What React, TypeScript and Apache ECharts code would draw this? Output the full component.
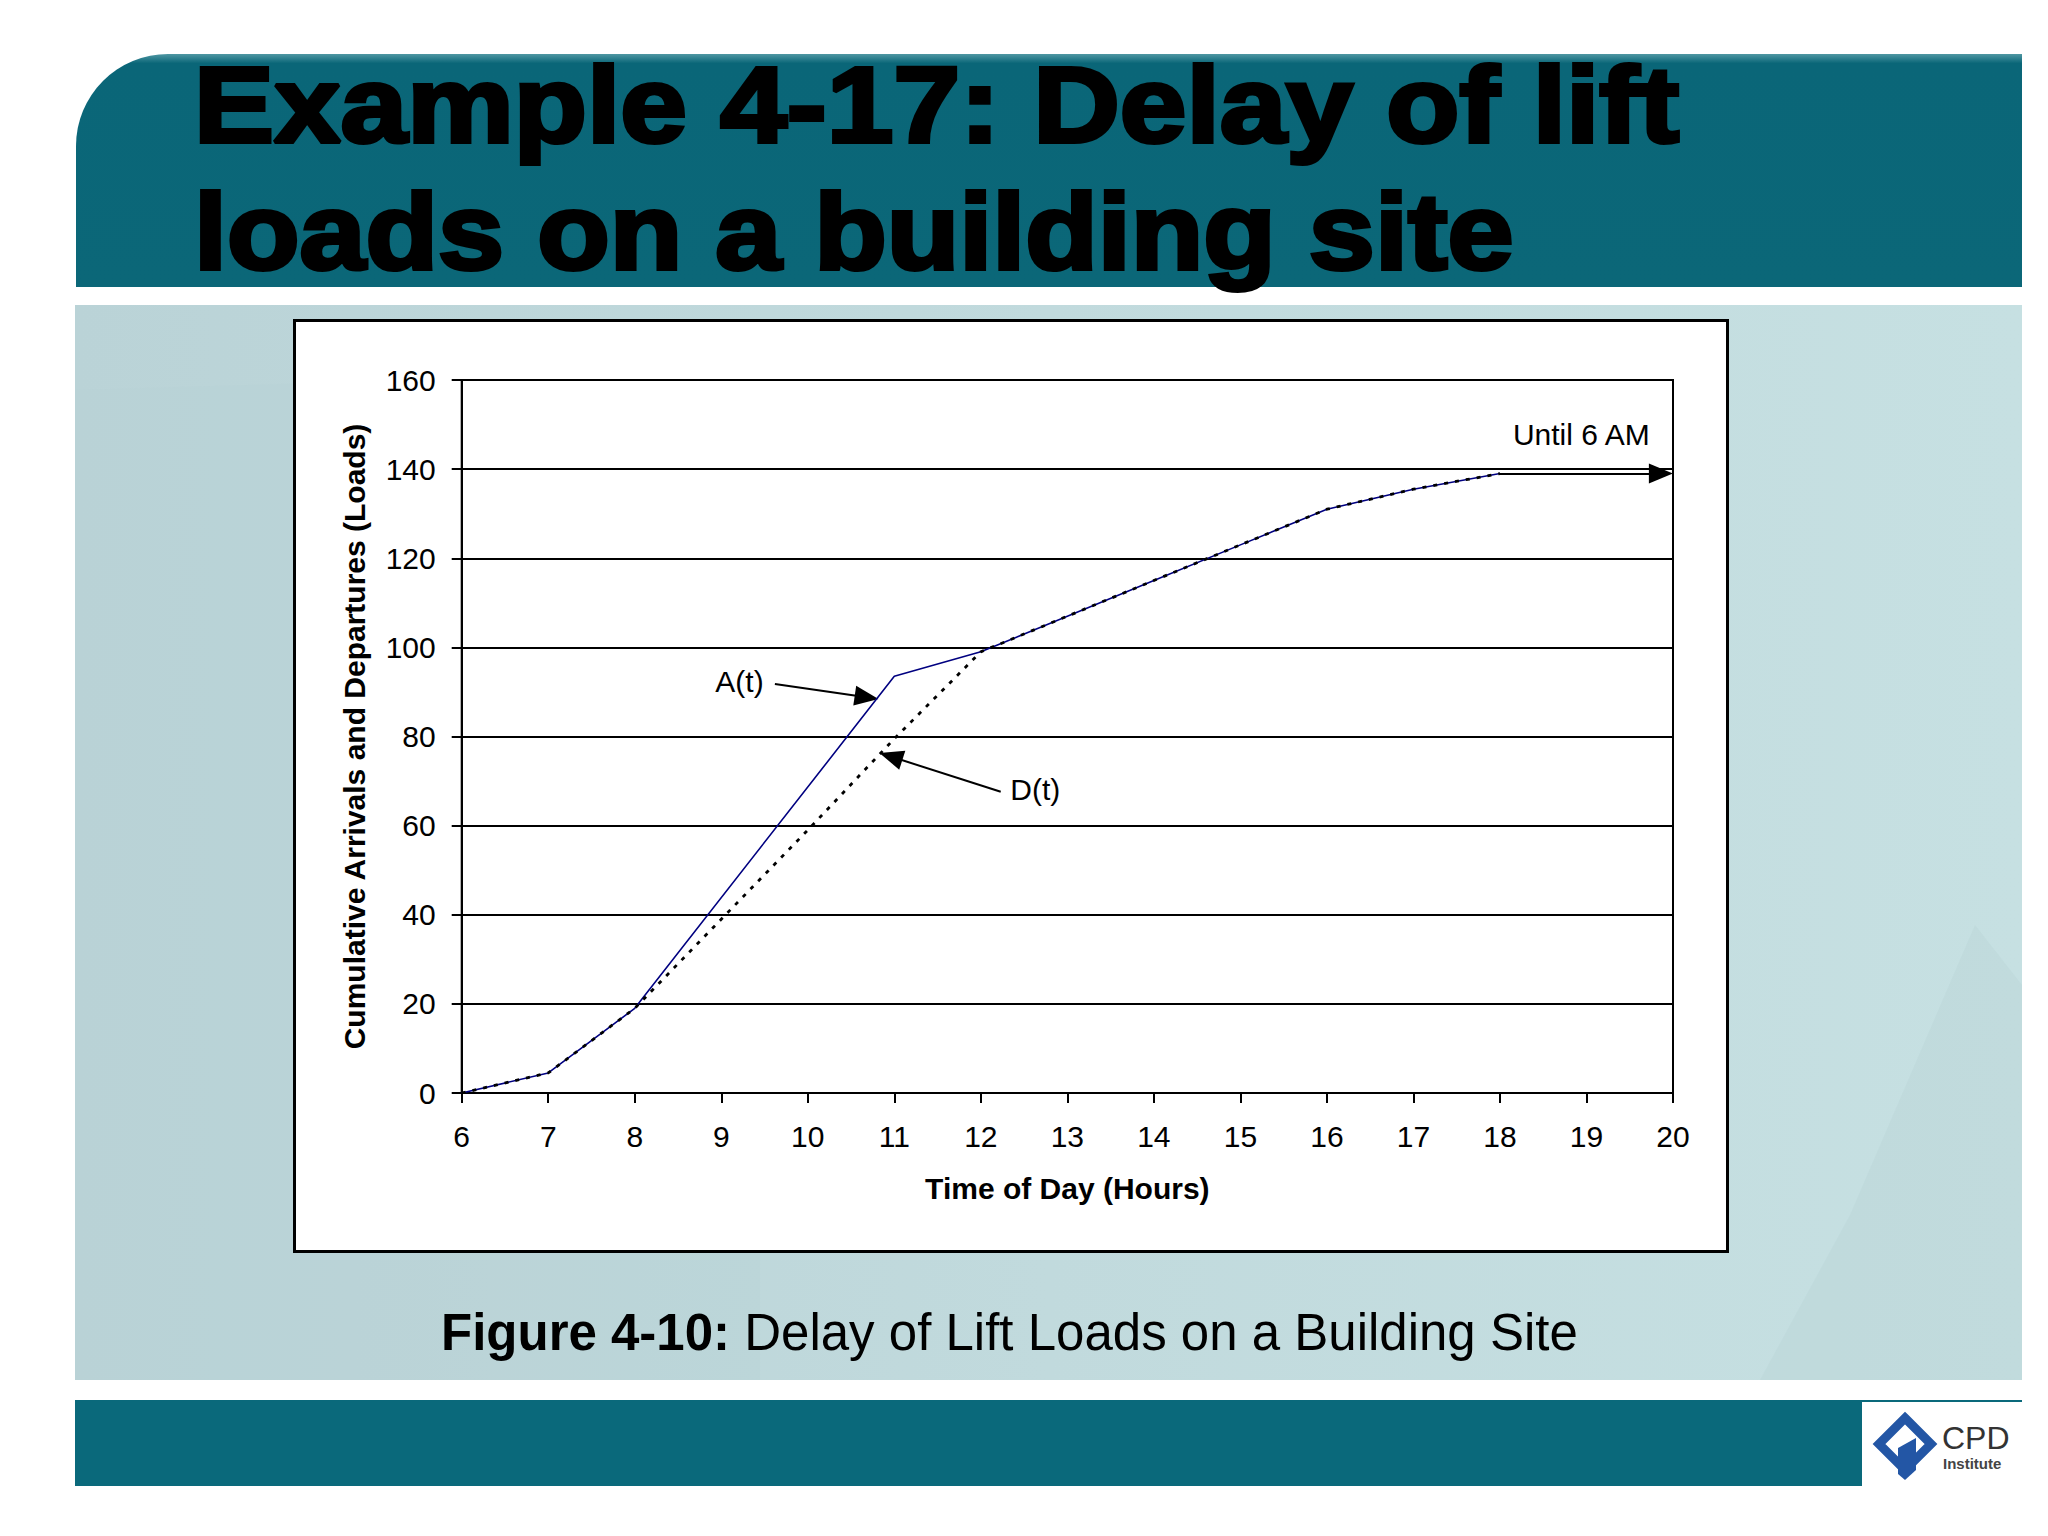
import React, { useEffect, useRef } from "react";
import * as echarts from "echarts";

// ---- data ----
const hoursA = [6, 7, 8, 11, 12, 13, 14, 15, 16, 17, 18];
const loadsA = [0, 4.5, 19, 93.5, 99, 107, 115, 123, 131, 135.5, 139];
const hoursD = [6, 7, 8, 9, 10, 11, 12, 13, 14, 15, 16, 17, 18];
const loadsD = [0, 4.5, 19, 39, 59, 79.5, 99, 107, 115, 123, 131, 135.5, 139];
const carryHours = [18, 19.86];
const carryLoads = [139, 139];
const xMin = 6, xMax = 20, xStep = 1;
const yMin = 0, yMax = 160, yStep = 20;

const titleLines = ["Example 4-17: Delay of lift", "loads on a building site"];
const xTitle = "Time of Day (Hours)";
const yTitle = "Cumulative Arrivals and Departures (Loads)";
const labelA = "A(t)";
const labelD = "D(t)";
const labelUntil = "Until 6 AM";

const FONT = '"Liberation Sans", Arial, sans-serif';

export default function App() {
  const ref = useRef<HTMLDivElement>(null);
  useEffect(() => {
    document.body.style.margin = "0";
    const chart = echarts.init(ref.current!, null, { renderer: "svg", width: 2048, height: 1536 });
    const teal = "#0a6678";
    const option: any = {
      animation: false,
      backgroundColor: "#ffffff",
      textStyle: { fontFamily: FONT },
      grid: {
        left: 461.7,
        right: 2048 - 1673,
        top: 380,
        bottom: 1536 - 1093,
        show: true,
        borderColor: "#000",
        borderWidth: 2,
        backgroundColor: "transparent",
        z: 3,
      },
      xAxis: {
        type: "value",
        min: xMin,
        max: xMax,
        interval: xStep,
        name: xTitle,
        nameLocation: "middle",
        nameGap: 80,
        nameTextStyle: { fontFamily: FONT, fontSize: 30, fontWeight: "bold", color: "#000" },
        axisLine: { show: true, lineStyle: { color: "#000", width: 2 } },
        axisTick: { show: true, inside: false, length: 10, lineStyle: { color: "#000", width: 2 } },
        axisLabel: { fontFamily: FONT, fontSize: 30, color: "#000", margin: 28 },
        splitLine: { show: false },
      },
      yAxis: {
        type: "value",
        min: yMin,
        max: yMax,
        interval: yStep,
        name: yTitle,
        nameLocation: "middle",
        nameGap: 92,
        nameTextStyle: { fontFamily: FONT, fontSize: 30, fontWeight: "bold", color: "#000" },
        axisLine: { show: true, lineStyle: { color: "#000", width: 2 } },
        axisTick: { show: true, inside: false, length: 10, lineStyle: { color: "#000", width: 2 } },
        axisLabel: { fontFamily: FONT, fontSize: 30, color: "#000", margin: 26 },
        splitLine: { show: true, lineStyle: { color: "#000", width: 2 } },
      },
      series: [
        {
          name: "A(t)",
          type: "line",
          data: hoursA.map((h, i) => [h, loadsA[i]]),
          symbol: "none",
          lineStyle: { color: "#000080", width: 1.6 },
          z: 5,
          silent: true,
        },
        {
          name: "D(t)",
          type: "line",
          data: hoursD.map((h, i) => [h, loadsD[i]]),
          symbol: "none",
          lineStyle: { color: "#000", width: 2.8, type: [4, 7] },
          z: 6,
          silent: true,
          markLine: {
            silent: true,
            symbol: ["none", "triangle"],
            symbolSize: [20, 24],
            label: { show: false },
            lineStyle: { color: "#000", width: 2, type: "solid" },
            data: [
              [{ coord: [9.62, 91.8] }, { coord: [10.68, 88.8] }],
              [{ coord: [12.23, 67.6] }, { coord: [10.96, 75.5] }],
              [{ coord: [carryHours[0], carryLoads[0]] }, { coord: [carryHours[1], carryLoads[1]] }],
            ],
          },
          markPoint: {
            silent: true,
            symbol: "circle",
            symbolSize: 0,
            data: [
              {
                coord: [9.49, 92.4],
                label: { show: true, formatter: labelA, position: [0, 0], align: "right", verticalAlign: "middle", fontFamily: FONT, fontSize: 30, color: "#000" },
              },
              {
                coord: [12.34, 68.2],
                label: { show: true, formatter: labelD, position: [0, 0], align: "left", verticalAlign: "middle", fontFamily: FONT, fontSize: 30, color: "#000" },
              },
              {
                coord: [19.73, 147.7],
                label: { show: true, formatter: labelUntil, position: [0, 0], align: "right", verticalAlign: "middle", fontFamily: FONT, fontSize: 30, color: "#000" },
              },
            ],
          },
        },
      ],
      graphic: [
        // top banner
        {
          type: "rect",
          z: -10,
          shape: { x: 76, y: 54, width: 1946, height: 233, r: [92, 0, 0, 0] },
          style: {
            fill: new echarts.graphic.LinearGradient(0, 0, 0, 1, [
              { offset: 0, color: "#4f97a3" },
              { offset: 0.04, color: teal },
              { offset: 1, color: "#0b6778" },
            ]),
          },
        },
        // content area
        {
          type: "rect",
          z: -10,
          shape: { x: 75, y: 305, width: 1947, height: 1075 },
          style: {
            fill: new echarts.graphic.LinearGradient(0, 0, 1, 0, [
              { offset: 0, color: "#bad3d7" },
              { offset: 0.5, color: "#c1dadd" },
              { offset: 1, color: "#c6e0e2" },
            ]),
          },
        },
        {
          type: "polygon",
          z: -9,
          shape: { points: [[1975, 925], [2022, 985], [2022, 1380], [1760, 1380], [1850, 1215]] },
          style: { fill: "#bad4d8", opacity: 0.45 },
        },
        {
          type: "polygon",
          z: -9,
          shape: { points: [[75, 390], [420, 380], [760, 420], [760, 1380], [75, 1380]] },
          style: { fill: "#b6cfd4", opacity: 0.3 },
        },
        // bottom band
        {
          type: "rect",
          z: -10,
          shape: { x: 75, y: 1400, width: 1947, height: 86 },
          style: { fill: "#0a697b" },
        },
        // logo box
        {
          type: "rect",
          z: -8,
          shape: { x: 1862, y: 1402, width: 160, height: 84 },
          style: { fill: "#ffffff" },
        },
        {
          type: "polygon",
          z: -7,
          shape: { points: [[1905, 1418], [1931, 1444], [1905, 1470], [1879, 1444]] },
          style: { fill: "none", stroke: "#2356a5", lineWidth: 9 },
        },
        {
          type: "polygon",
          z: -6,
          shape: { points: [[1898, 1448], [1916, 1438], [1916, 1470], [1905, 1480], [1898, 1474]] },
          style: { fill: "#2356a5" },
        },
        {
          type: "text",
          z: -6,
          x: 1942,
          y: 1438,
          style: { text: "CPD", font: `32px ${FONT}`, fill: "#333", align: "left", verticalAlign: "middle" },
        },
        {
          type: "text",
          z: -6,
          x: 1943,
          y: 1463,
          style: { text: "Institute", font: `bold 15px ${FONT}`, fill: "#444", align: "left", verticalAlign: "middle" },
        },
        // chart box
        {
          type: "rect",
          z: -5,
          shape: { x: 294.5, y: 320.5, width: 1433, height: 931 },
          style: { fill: "#ffffff", stroke: "#000", lineWidth: 3 },
        },
        // title
        {
          type: "text",
          z: 10,
          x: 194,
          y: 105,
          scaleX: 1.12,
          style: { text: titleLines[0], font: `bold 107px ${FONT}`, fill: "#000", stroke: "#000", lineWidth: 4, align: "left", verticalAlign: "middle" },
        },
        {
          type: "text",
          z: 10,
          x: 194,
          y: 232,
          scaleX: 1.11,
          style: { text: titleLines[1], font: `bold 107px ${FONT}`, fill: "#000", stroke: "#000", lineWidth: 4, align: "left", verticalAlign: "middle" },
        },
        // caption
        {
          type: "text",
          z: 10,
          x: 441,
          y: 1332,
          style: {
            text: "{b|Figure 4-10:}{r| Delay of Lift Loads on a Building Site}",
            align: "left",
            verticalAlign: "middle",
            rich: {
              b: { fontFamily: FONT, fontSize: 51, fontWeight: "bold", fill: "#000" },
              r: { fontFamily: FONT, fontSize: 51, fill: "#000" },
            },
          },
        },
      ],
    };
    chart.setOption(option);
    return () => chart.dispose();
  }, []);
  return <div ref={ref} style={{ position: "absolute", left: 0, top: 0, width: 2048, height: 1536 }} />;
}
